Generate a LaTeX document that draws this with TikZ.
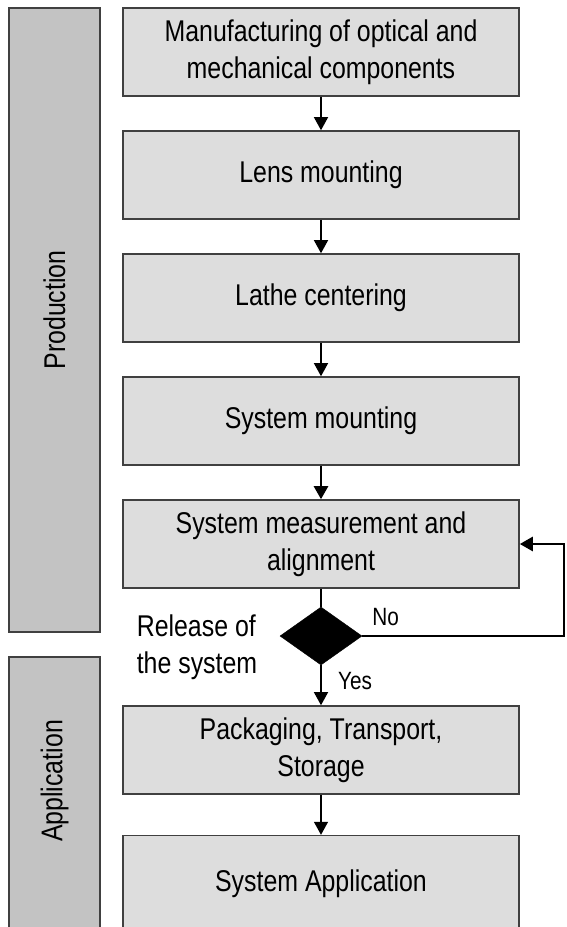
\documentclass[tikz,border=0pt]{standalone}
\usepackage{fontspec}
\setmainfont{Liberation Sans}[FakeStretch=0.83]
\usepackage{xcolor}
\usepackage{tikz}
\usetikzlibrary{shapes,arrows.meta,positioning,calc}
\definecolor{boxgray}{HTML}{DDDDDD}
\definecolor{bargray}{HTML}{C3C3C3}
\definecolor{edgegray}{HTML}{404040}

\begin{document}
\begin{tikzpicture}[
    x=1pt, y=-1pt,
    node distance=33.4pt,
    b1/.style={rectangle, draw=edgegray, fill=boxgray, line width=1.6pt, align=center, minimum height=88pt, minimum width=396pt, inner sep=0pt, font=\fontsize{30}{37}\selectfont},
    bar/.style={rectangle, draw=edgegray, fill=bargray, line width=1.6pt, rotate=90, inner sep=0pt, minimum height=91pt},
    bartxt/.style={rotate=90, inner sep=0pt, font=\fontsize{30}{37}\selectfont},
    dec/.style={diamond, fill=black, draw=black, minimum width=82pt, minimum height=58pt, inner sep=0pt},
    lbl/.style={inner sep=0pt, font=\fontsize{25}{30}\selectfont},
    arr/.style={-{Triangle[length=13pt,width=14pt]}, line width=1.3pt},
    arrb/.style={arr, line width=2.6pt}
]
    \useasboundingbox (0,0) rectangle (566,927);

    % phase bars
    \node [bar, minimum width=624pt] (prod) at (54.5,320) {};
    \node [bar, minimum width=285pt] (appl) at (54.5,799.5) {};
    \node [bartxt] (prodtxt) at ($(prod.center)+(0,-10)$) {Production};
    \node [bartxt] (appltxt) at (54.5,781) {Application};

    % process steps
    \node [b1] (n1) at (321,52) {Manufacturing of optical and\\mechanical components};
    \node [b1, below=of n1] (n2) {Lens mounting};
    \node [b1, below=of n2] (n3) {Lathe centering};
    \node [b1, below=of n3] (n4) {System mounting};
    \node [b1, below=of n4] (n5) {System measurement and\\alignment};
    \node [dec, below=18pt of n5] (d1) {};
    \node [b1, below=40pt of d1] (n6) {Packaging, Transport,\\Storage};
    \node [b1, below=40pt of n6, minimum height=96pt] (n7) {System Application};

    \node [lbl, anchor=south west] (no) at ($(d1.east)+(10,-10)$) {No};
    \node [lbl, anchor=west] (yes) at ($(d1.south)+(17,16)$) {Yes};
    \node [b1, draw=none, fill=none, minimum width=0pt, minimum height=0pt, align=left, anchor=west] (rel) at (136,647) {Release of\\the system};

    \coordinate (fb) at (564,0);

    \draw [arr] (n1) -- (n2);
    \draw [arr] (n2) -- (n3);
    \draw [arr] (n3) -- (n4);
    \draw [arrb] (n4) -- (n5);
    \draw [line width=1.3pt] (n5) -- (d1);
    \draw [arr] (d1) -- (n6);
    \draw [arr] (n6) -- (n7);
    \draw [arrb] (d1.east) -- (d1.east -| fb) |- (n5.east);
\end{tikzpicture}
\end{document}
